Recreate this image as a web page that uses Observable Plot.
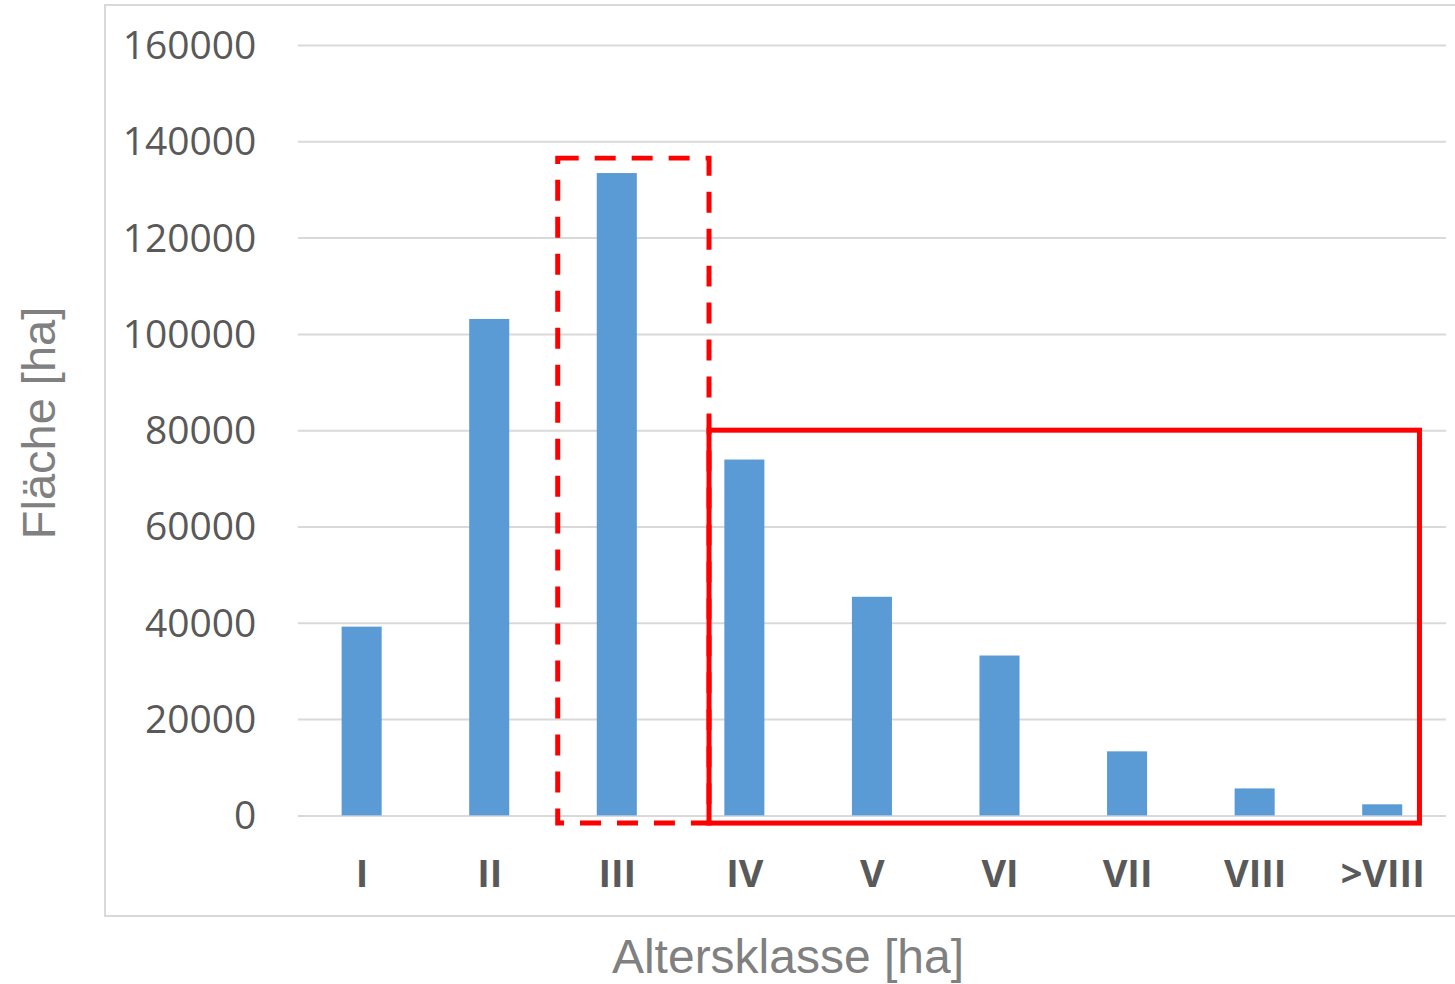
<!DOCTYPE html>
<html>
<head>
<meta charset="utf-8">
<script src="https://cdn.jsdelivr.net/npm/d3@7"></script>
<script src="https://cdn.jsdelivr.net/npm/@observablehq/plot@0.6"></script>
<style>
  html, body { margin: 0; padding: 0; background: #fff; overflow: hidden; }
  #wrap { position: relative; width: 1455px; height: 984px; }
  #chart { position: absolute; left: 104px; top: 4px; }
  #chart svg { border: 2px solid #d9d9d9; display: block; }
  .ytitle {
    position: absolute; left: 38px; top: 423px;
    transform: translate(-50%, -50%) rotate(-90deg);
    font-family: "Liberation Sans", Arial, sans-serif; font-size: 47px; color: #808080;
    white-space: nowrap; line-height: 1;
  }
  .xtitle {
    position: absolute; left: 788px; top: 933px;
    transform: translateX(-50%);
    font-family: "Liberation Sans", Arial, sans-serif; font-size: 48px; color: #808080;
    white-space: nowrap; line-height: 1;
  }
</style>
</head>
<body>
<div id="wrap">
  <div id="chart"></div>
  <div class="ytitle">Fläche [ha]</div>
  <div class="xtitle">Altersklasse [ha]</div>
</div>
<script>
// Data
const categories = ["I", "II", "III", "IV", "V", "VI", "VII", "VIII", ">VIII"];
const values = [39200, 103100, 133400, 73900, 45400, 33200, 13300, 5600, 2300];
const yTicks = [0, 20000, 40000, 60000, 80000, 100000, 120000, 140000, 160000];
// Highlight boxes (in category-index / value units)
const boxNames = ["dashed", "solid"];
const boxX1 = [2.537, 3.723];
const boxX2 = [3.723, 9.292];
const boxY1 = [-1600, -1600];
const boxY2 = [136500, 80000];

const barHalf = 0.157;
const data = categories.map((c, i) => ({cat: c, idx: i + 1, value: values[i]}));
const boxes = boxNames.map((n, i) => ({name: n, x1: boxX1[i], x2: boxX2[i], y1: boxY1[i], y2: boxY2[i]}));

const chart = Plot.plot({
  width: 1352,
  height: 910,
  marginLeft: 192,
  marginRight: 11,
  marginTop: 39,
  marginBottom: 100,
  style: {background: "#fff", fontFamily: "'Open Sans', sans-serif", overflow: "visible"},
  x: {domain: [0.5, 9.5]},
  y: {domain: [0, 160000]},
  marks: [
    Plot.gridY(yTicks, {stroke: "#d9d9d9", strokeOpacity: 1, strokeWidth: 2}),
    Plot.rectY(data, {x1: d => d.idx - barHalf, x2: d => d.idx + barHalf, y1: 0, y2: "value", fill: "#5b9bd5"}),
    Plot.rect(boxes.filter(b => b.name === "dashed"), {x1: "x1", x2: "x2", y1: "y1", y2: "y2", fill: "none", stroke: "#ff0000", strokeWidth: 5, strokeDasharray: "21,16"}),
    Plot.rect(boxes.filter(b => b.name === "solid"), {x1: "x1", x2: "x2", y1: "y1", y2: "y2", fill: "none", stroke: "#ff0000", strokeWidth: 5}),
    Plot.axisY(yTicks, {tickSize: 0, tickPadding: 42, tickFormat: d => String(d), fontSize: 39, fill: "#595959", label: null, dy: 1}),
    Plot.axisX(categories.map((c, i) => i + 1), {tickSize: 0, tickPadding: 44, tickFormat: d => categories[d - 1], fontSize: 38, fontWeight: "bold", fill: "#595959", label: null})
  ]
});
document.getElementById("chart").appendChild(chart);
</script>
</body>
</html>
